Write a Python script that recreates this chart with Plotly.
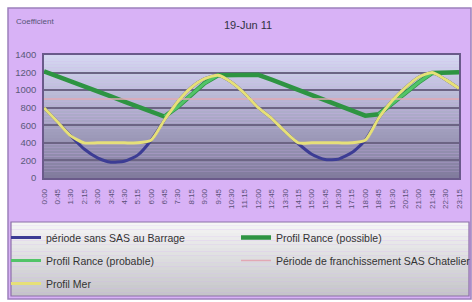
import plotly.graph_objects as go

times = ["0:00", "0:45", "1:30", "2:15", "3:00", "3:45", "4:30", "5:15", "6:00", "6:45",
         "7:30", "8:15", "9:00", "9:45", "10:30", "11:15", "12:00", "12:45", "13:30", "14:15",
         "15:00", "15:45", "16:30", "17:15", "18:00", "18:45", "19:30", "20:15", "21:00", "21:45",
         "22:30", "23:15"]

sans_sas = [800, 640, 480, 330, 230, 180, 190, 260, 430, 660,
            870, 1030, 1130, 1170, 1090, 960, 800, 680, 530, 390,
            270, 210, 215, 290, 430, 680, 880, 1030, 1150, 1200,
            1120, 1020]

rance_possible = [1215, 1160, 1100, 1045, 990, 930, 870, 815, 755, 700,
                  810, 950, 1080, 1170, 1175, 1175, 1175, 1120, 1060, 1000,
                  945, 885, 825, 770, 710, 725, 850, 970, 1090, 1195,
                  1200, 1205]

rance_probable = [None, None, None, None, None, None, None, None, None, 700,
                  810, 950, 1080, 1170, None, None, None, None, None, None,
                  None, None, None, None, None, 725, 850, 970, 1090, 1195,
                  None, None]

franchissement = [900] * 32

profil_mer = [800, 640, 480, 400, 400, 400, 400, 400, 430, 660,
              870, 1030, 1130, 1170, 1090, 960, 800, 680, 530, 400,
              400, 400, 400, 400, 430, 680, 880, 1030, 1150, 1200,
              1120, 1020]

yticks = [0, 200, 400, 600, 800, 1000, 1200, 1400]

W, H = 472, 302
L, R, T, B = 44, 13, 55, 124
pw, ph = W - L - R, H - T - B

def px2x(p):
    return (p - L) / pw

def py2y(p):
    return (H - B - p) / ph

def lerp(c1, c2, t):
    return "rgb(%d,%d,%d)" % tuple(round(a + (b - a) * t) for a, b in zip(c1, c2))

shapes = []
# purple outer background
shapes.append(dict(type="rect", xref="paper", yref="paper", layer="below",
                   x0=px2x(8), x1=px2x(471), y0=py2y(299), y1=py2y(8),
                   fillcolor="#d8b2f6", line=dict(color="#9c80bc", width=1.5)))
# plot area gradient
n = 40
top_c, bot_c = (214, 216, 242), (128, 122, 156)
for k in range(n):
    shapes.append(dict(type="rect", xref="paper", yref="paper", layer="below",
                       x0=0, x1=1, y0=1 - (k + 1) / n, y1=1 - k / n,
                       fillcolor=lerp(top_c, bot_c, (k + 0.5) / n), line=dict(width=0)))
# legend gradient box
m = 20
lt, lb = (246, 246, 246), (196, 196, 200)
ly0, ly1 = 222, 296
for k in range(m):
    shapes.append(dict(type="rect", xref="paper", yref="paper", layer="below",
                       x0=px2x(11), x1=px2x(469),
                       y0=py2y(ly0 + (k + 1) * (ly1 - ly0) / m), y1=py2y(ly0 + k * (ly1 - ly0) / m),
                       fillcolor=lerp(lt, lb, (k + 0.5) / m), line=dict(width=0)))
shapes.append(dict(type="rect", xref="paper", yref="paper", layer="below",
                   x0=px2x(11), x1=px2x(469), y0=py2y(ly1), y1=py2y(ly0),
                   fillcolor="rgba(0,0,0,0)", line=dict(color="#8c70a8", width=1.2)))

fig = go.Figure()
fig.add_trace(go.Scatter(x=times, y=sans_sas, mode="lines", name="période sans SAS au Barrage",
                         legend="legend", legendgroup="a",
                         line=dict(color="#3c3c94", width=3, shape="spline", smoothing=0.6)))
fig.add_trace(go.Scatter(x=times, y=rance_possible, mode="lines", name="Profil Rance (possible)",
                         legend="legend2", legendgroup="b",
                         line=dict(color="#2e9442", width=4.5)))
fig.add_trace(go.Scatter(x=times, y=rance_probable, mode="lines", name="Profil Rance (probable)",
                         legend="legend", legendgroup="c",
                         line=dict(color="#52c468", width=3)))
fig.add_trace(go.Scatter(x=times, y=franchissement, mode="lines",
                         name="Période de franchissement SAS Chatelier",
                         legend="legend2", legendgroup="d",
                         line=dict(color="#e2a8b4", width=1.5)))
fig.add_trace(go.Scatter(x=times, y=profil_mer, mode="lines", name="Profil Mer",
                         legend="legend", legendgroup="e",
                         line=dict(color="#e6e078", width=3, shape="spline", smoothing=0.6)))

leg_common = dict(orientation="v", xanchor="left", yanchor="top", bgcolor="rgba(0,0,0,0)",
                  font=dict(size=10.5, color="#333333"), itemwidth=30, tracegroupgap=4)

fig.update_layout(
    width=W, height=H,
    margin=dict(l=L, r=R, t=T, b=B, autoexpand=False),
    paper_bgcolor="white", plot_bgcolor="rgba(0,0,0,0)",
    font=dict(family="Liberation Sans, Arial, sans-serif", size=8, color="#4a4a6a"),
    shapes=shapes,
    showlegend=True,
    legend=dict(x=px2x(6), y=py2y(223), **leg_common),
    legend2=dict(x=px2x(236), y=py2y(223), **leg_common),
    annotations=[
        dict(text="19-Jun 11", xref="paper", yref="paper", x=px2x(248), y=py2y(25),
             xanchor="center", yanchor="middle",
             showarrow=False, font=dict(size=11, color="#333344")),
        dict(text="Coefficient", xref="paper", yref="paper", x=px2x(14), y=py2y(21),
             xanchor="left", yanchor="middle", showarrow=False,
             font=dict(size=8, color="#555577")),
    ],
)
fig.update_xaxes(type="category", range=[0, len(times) - 1], tickangle=-90,
                 tickfont=dict(size=8, color="#5a5078"), showgrid=False,
                 showline=True, linecolor="#6a5a8a", linewidth=1.5, mirror=True,
                 ticks="", ticklabelstandoff=6, automargin=False)
fig.update_yaxes(range=[0, 1400], tickvals=yticks, tickfont=dict(size=9.5, color="#5a5a7a"),
                 gridcolor="#6c6484", gridwidth=1.5, showline=True, linecolor="#6a5a8a",
                 linewidth=1.5, mirror=True, zeroline=False, ticks="", ticklabelstandoff=4,
                 automargin=False)

fig.write_html("out.html", config={"displayModeBar": False},
               post_script="document.body.style.margin='0';document.body.style.padding='0';")
